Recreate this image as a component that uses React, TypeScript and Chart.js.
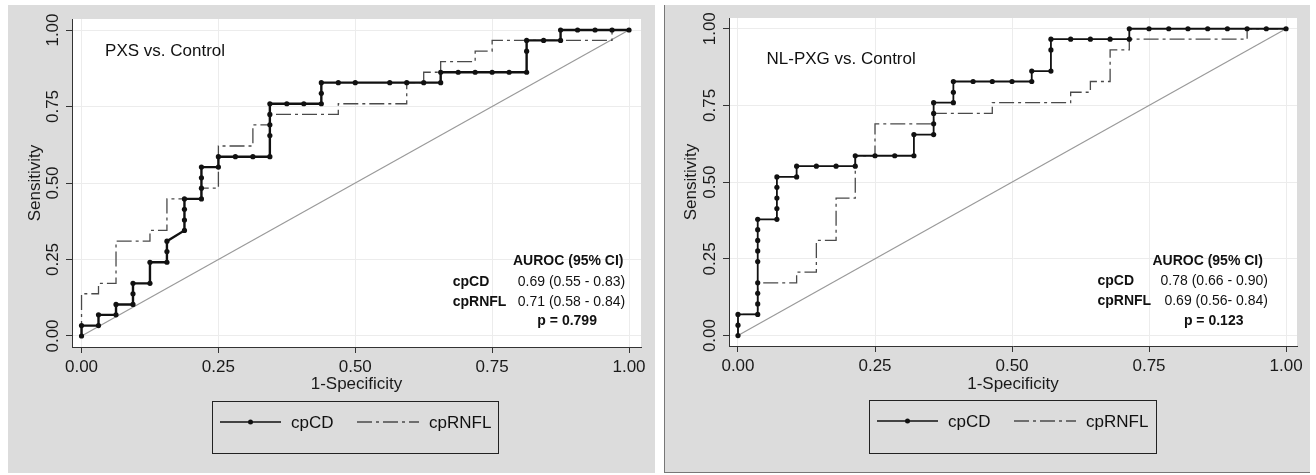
import React, { useEffect, useRef } from "react";
import { Chart, registerables } from "chart.js";
Chart.register(...registerables);

// ---------- data ----------
const TICKS = [0, 0.25, 0.5, 0.75, 1];
const LEGEND_LABELS = ["cpCD", "cpRNFL"];
const DIAG_X = [0, 1];
const DIAG_Y = [0, 1];

// PXS vs. Control
const PXS_TITLE = "PXS vs. Control";
const PXS_AUROC = ["0.69 (0.55 - 0.83)", "0.71 (0.58 - 0.84)"];
const PXS_P = "p = 0.799";
const PXS_CPCD_X = [0, 0, 0.031, 0.031, 0.063, 0.063, 0.094, 0.094, 0.094, 0.125, 0.125, 0.156, 0.156, 0.156, 0.188, 0.188, 0.188, 0.188, 0.219, 0.219, 0.219, 0.219, 0.25, 0.25, 0.281, 0.313, 0.344, 0.344, 0.344, 0.344, 0.344, 0.375, 0.406, 0.438, 0.438, 0.438, 0.469, 0.5, 0.563, 0.594, 0.625, 0.656, 0.656, 0.688, 0.719, 0.75, 0.781, 0.813, 0.813, 0.813, 0.844, 0.875, 0.875, 0.906, 0.938, 0.969, 1];
const PXS_CPCD_Y = [0, 0.034, 0.034, 0.069, 0.069, 0.103, 0.103, 0.138, 0.172, 0.172, 0.241, 0.241, 0.276, 0.31, 0.345, 0.379, 0.414, 0.448, 0.448, 0.483, 0.517, 0.552, 0.552, 0.586, 0.586, 0.586, 0.586, 0.655, 0.69, 0.724, 0.759, 0.759, 0.759, 0.759, 0.793, 0.828, 0.828, 0.828, 0.828, 0.828, 0.828, 0.828, 0.862, 0.862, 0.862, 0.862, 0.862, 0.862, 0.931, 0.966, 0.966, 0.966, 1, 1, 1, 1, 1];
const PXS_RNFL_X = [0, 0, 0.031, 0.031, 0.063, 0.063, 0.125, 0.125, 0.156, 0.156, 0.219, 0.219, 0.25, 0.25, 0.313, 0.313, 0.344, 0.344, 0.469, 0.469, 0.594, 0.594, 0.625, 0.625, 0.656, 0.656, 0.719, 0.719, 0.75, 0.75, 0.969, 0.969, 1];
const PXS_RNFL_Y = [0, 0.138, 0.138, 0.172, 0.172, 0.31, 0.31, 0.345, 0.345, 0.448, 0.448, 0.483, 0.483, 0.621, 0.621, 0.69, 0.69, 0.724, 0.724, 0.759, 0.759, 0.828, 0.828, 0.862, 0.862, 0.897, 0.897, 0.931, 0.931, 0.966, 0.966, 1, 1];

// NL-PXG vs. Control
const NL_TITLE = "NL-PXG vs. Control";
const NL_AUROC = ["0.78 (0.66 - 0.90)", "0.69 (0.56- 0.84)"];
const NL_P = "p = 0.123";
const NL_CPCD_X = [0, 0, 0, 0.036, 0.036, 0.036, 0.036, 0.036, 0.036, 0.036, 0.036, 0.036, 0.071, 0.071, 0.071, 0.071, 0.071, 0.107, 0.107, 0.143, 0.179, 0.214, 0.214, 0.25, 0.286, 0.321, 0.321, 0.357, 0.357, 0.357, 0.357, 0.393, 0.393, 0.393, 0.429, 0.464, 0.5, 0.536, 0.536, 0.571, 0.571, 0.571, 0.607, 0.643, 0.679, 0.714, 0.714, 0.75, 0.786, 0.821, 0.857, 0.893, 0.929, 0.964, 1];
const NL_CPCD_Y = [0, 0.034, 0.069, 0.069, 0.103, 0.138, 0.172, 0.241, 0.276, 0.31, 0.345, 0.379, 0.379, 0.414, 0.448, 0.483, 0.517, 0.517, 0.552, 0.552, 0.552, 0.552, 0.586, 0.586, 0.586, 0.586, 0.655, 0.655, 0.69, 0.724, 0.759, 0.759, 0.793, 0.828, 0.828, 0.828, 0.828, 0.828, 0.862, 0.862, 0.931, 0.966, 0.966, 0.966, 0.966, 0.966, 1, 1, 1, 1, 1, 1, 1, 1, 1];
const NL_RNFL_X = [0, 0, 0.036, 0.036, 0.107, 0.107, 0.143, 0.143, 0.179, 0.179, 0.214, 0.214, 0.25, 0.25, 0.357, 0.357, 0.464, 0.464, 0.607, 0.607, 0.643, 0.643, 0.679, 0.679, 0.714, 0.714, 0.929, 0.929, 1];
const NL_RNFL_Y = [0, 0.069, 0.069, 0.172, 0.172, 0.207, 0.207, 0.31, 0.31, 0.448, 0.448, 0.586, 0.586, 0.69, 0.69, 0.724, 0.724, 0.759, 0.759, 0.793, 0.793, 0.828, 0.828, 0.931, 0.931, 0.966, 0.966, 1, 1];

const FONT = "'Liberation Sans', Arial, Helvetica, sans-serif";
const DASH = [15, 4, 3, 4];

const pts = (xs: number[], ys: number[]) => xs.map((x, i) => ({ x, y: ys[i] }));

const panelPlugin = {
  id: "panel",
  beforeDraw(chart: any) {
    const { ctx, chartArea: a } = chart;
    ctx.save();
    ctx.fillStyle = "#ffffff";
    ctx.fillRect(a.left, a.top, a.right - a.left, a.bottom - a.top);
    ctx.restore();
  },
  afterDraw(chart: any, _args: any, o: any) {
    const { ctx } = chart;
    const xs = chart.scales.x;
    const ys = chart.scales.y;
    const px = (v: number) => xs.getPixelForValue(v);
    const py = (v: number) => ys.getPixelForValue(v);
    ctx.save();
    ctx.fillStyle = "#111";
    ctx.textBaseline = "middle";
    // title
    ctx.font = `17px ${FONT}`;
    ctx.textAlign = "left";
    ctx.fillText(o.title, px(o.titleX), py(o.titleY));
    // AUROC block
    ctx.font = `bold 14px ${FONT}`;
    ctx.textAlign = "center";
    ctx.fillText("AUROC (95% CI)", px(o.headX), py(o.rowY[0]));
    ctx.textAlign = "left";
    ctx.fillText(LEGEND_LABELS[0], px(o.labX), py(o.rowY[1]));
    ctx.fillText(LEGEND_LABELS[1], px(o.labX), py(o.rowY[2]));
    ctx.font = `14px ${FONT}`;
    ctx.textAlign = "right";
    ctx.fillText(o.auroc[0], px(o.valX), py(o.rowY[1]));
    ctx.fillText(o.auroc[1], px(o.valX), py(o.rowY[2]));
    ctx.font = `bold 14px ${FONT}`;
    ctx.textAlign = "center";
    ctx.fillText(o.p, px(o.pX), py(o.rowY[3]));

    // legend
    const L = o.legend;
    ctx.strokeStyle = "#222";
    ctx.lineWidth = 1;
    ctx.strokeRect(L.x + 0.5, L.y + 0.5, L.w, L.h);
    const ly = L.y + 21;
    ctx.strokeStyle = "#111";
    ctx.lineWidth = 1.6;
    ctx.beginPath();
    ctx.moveTo(L.x + 8, ly);
    ctx.lineTo(L.x + 69, ly);
    ctx.stroke();
    ctx.beginPath();
    ctx.arc(L.x + 38.5, ly, 2.5, 0, Math.PI * 2);
    ctx.fillStyle = "#111";
    ctx.fill();
    ctx.font = `17px ${FONT}`;
    ctx.textAlign = "left";
    ctx.fillText(LEGEND_LABELS[0], L.x + 79, ly + 1);
    ctx.strokeStyle = "#4a4a4a";
    ctx.lineWidth = 1.3;
    ctx.setLineDash(DASH);
    ctx.beginPath();
    ctx.moveTo(L.x + 145, ly);
    ctx.lineTo(L.x + 207, ly);
    ctx.stroke();
    ctx.setLineDash([]);
    ctx.fillText(LEGEND_LABELS[1], L.x + 217, ly + 1);
    ctx.restore();
  },
};

type PanelProps = {
  left: number; top: number; width: number; height: number;
  padTop: number; padRight: number; yWidth: number; xHeight: number;
  xMin: number; xMax: number; yMin: number; yMax: number;
  cdX: number[]; cdY: number[]; rnX: number[]; rnY: number[];
  cdWidth: number; border?: boolean; annot: any;
};

function Panel(p: PanelProps) {
  const ref = useRef<HTMLCanvasElement>(null);
  useEffect(() => {
    const tickFont = { family: FONT, size: 17 };
    const chart = new Chart(ref.current!, {
      type: "scatter",
      data: {
        datasets: [
          {
            data: pts(p.cdX, p.cdY),
            showLine: true,
            borderColor: "#111",
            borderWidth: p.cdWidth,
            pointRadius: 2.6,
            pointBackgroundColor: "#111",
            pointBorderWidth: 0,
            tension: 0,
            order: 1,
          } as any,
          {
            data: pts(p.rnX, p.rnY),
            showLine: true,
            borderColor: "#4a4a4a",
            borderWidth: 1.3,
            borderDash: DASH,
            pointRadius: 0,
            tension: 0,
            order: 2,
          } as any,
          {
            data: pts(DIAG_X, DIAG_Y),
            showLine: true,
            borderColor: "#9a9a9a",
            borderWidth: 1.2,
            pointRadius: 0,
            order: 3,
          } as any,
        ],
      },
      options: {
        responsive: false,
        animation: false,
        events: [],
        layout: { padding: { left: 0, top: p.padTop, right: p.padRight, bottom: 0 } },
        plugins: {
          legend: { display: false },
          tooltip: { enabled: false },
          panel: p.annot,
        } as any,
        scales: {
          x: {
            type: "linear",
            min: p.xMin,
            max: p.xMax,
            afterBuildTicks: (s: any) => { s.ticks = TICKS.map((v) => ({ value: v })); },
            afterFit: (s: any) => { s.height = p.xHeight; },
            ticks: {
              font: tickFont,
              color: "#1a1a1a",
              padding: 4,
              maxRotation: 0,
              minRotation: 0,
              callback: (v: any) => Number(v).toFixed(2),
            },
            grid: { color: "#ececec", lineWidth: 1, tickColor: "#333", tickLength: 6, tickWidth: 1 },
            border: { color: "#333", width: 1 },
            title: { display: true, text: "1-Specificity", font: tickFont, color: "#1a1a1a", padding: { top: 0, bottom: 78 } },
          },
          y: {
            type: "linear",
            min: p.yMin,
            max: p.yMax,
            afterBuildTicks: (s: any) => { s.ticks = TICKS.map((v) => ({ value: v })); },
            afterFit: (s: any) => { s.width = p.yWidth; },
            ticks: {
              font: tickFont,
              color: "#1a1a1a",
              padding: -4,
              minRotation: 90,
              maxRotation: 90,
              crossAlign: "center",
              callback: (v: any) => Number(v).toFixed(2),
            },
            grid: { color: "#ececec", lineWidth: 1, tickColor: "#333", tickLength: 6, tickWidth: 1 },
            border: { color: "#333", width: 1 },
            title: { display: true, text: "Sensitivity", font: tickFont, color: "#1a1a1a", padding: { top: 17, bottom: 0 } },
          },
        },
      } as any,
      plugins: [panelPlugin as any],
    });
    return () => chart.destroy();
  }, []);
  return (
    <div
      style={{
        position: "absolute",
        left: p.left,
        top: p.top,
        width: p.width,
        height: p.height,
        background: "#dcdcdc",
        boxSizing: "border-box",
        borderLeft: p.border ? "1px solid #777" : undefined,
        borderBottom: p.border ? "1px solid #777" : undefined,
      }}
    >
      <canvas
        ref={ref}
        width={p.width}
        height={p.height}
        style={{ position: "absolute", left: p.border ? -1 : 0, top: 0, display: "block" }}
      />
    </div>
  );
}

export default function App() {
  return (
    <div style={{ position: "absolute", left: 0, top: 0, width: 1316, height: 475, background: "#fff" }}>
      <Panel
        left={8} top={5} width={647} height={468}
        padTop={14} padRight={14} yWidth={64} xHeight={126}
        xMin={-0.0174} xMax={1.0219} yMin={-0.036} yMax={1.036}
        cdX={PXS_CPCD_X} cdY={PXS_CPCD_Y} rnX={PXS_RNFL_X} rnY={PXS_RNFL_Y}
        cdWidth={2.4}
        annot={{
          title: PXS_TITLE, titleX: 0.043, titleY: 0.929,
          auroc: PXS_AUROC, p: PXS_P,
          headX: 0.889, labX: 0.678, valX: 0.993, pX: 0.887,
          rowY: [0.246, 0.177, 0.112, 0.047],
          legend: { x: 204, y: 396, w: 286, h: 52 },
        }}
      />
      <Panel
        left={664} top={5} width={646} height={468}
        padTop={13} padRight={13} yWidth={65} xHeight={127}
        xMin={-0.0164} xMax={1.02} yMin={-0.034} yMax={1.035}
        cdX={NL_CPCD_X} cdY={NL_CPCD_Y} rnX={NL_RNFL_X} rnY={NL_RNFL_Y}
        cdWidth={1.8} border
        annot={{
          title: NL_TITLE, titleX: 0.052, titleY: 0.899,
          auroc: NL_AUROC, p: NL_P,
          headX: 0.857, labX: 0.656, valX: 0.967, pX: 0.868,
          rowY: [0.242, 0.177, 0.112, 0.047],
          legend: { x: 205, y: 395, w: 287, h: 53 },
        }}
      />
    </div>
  );
}
